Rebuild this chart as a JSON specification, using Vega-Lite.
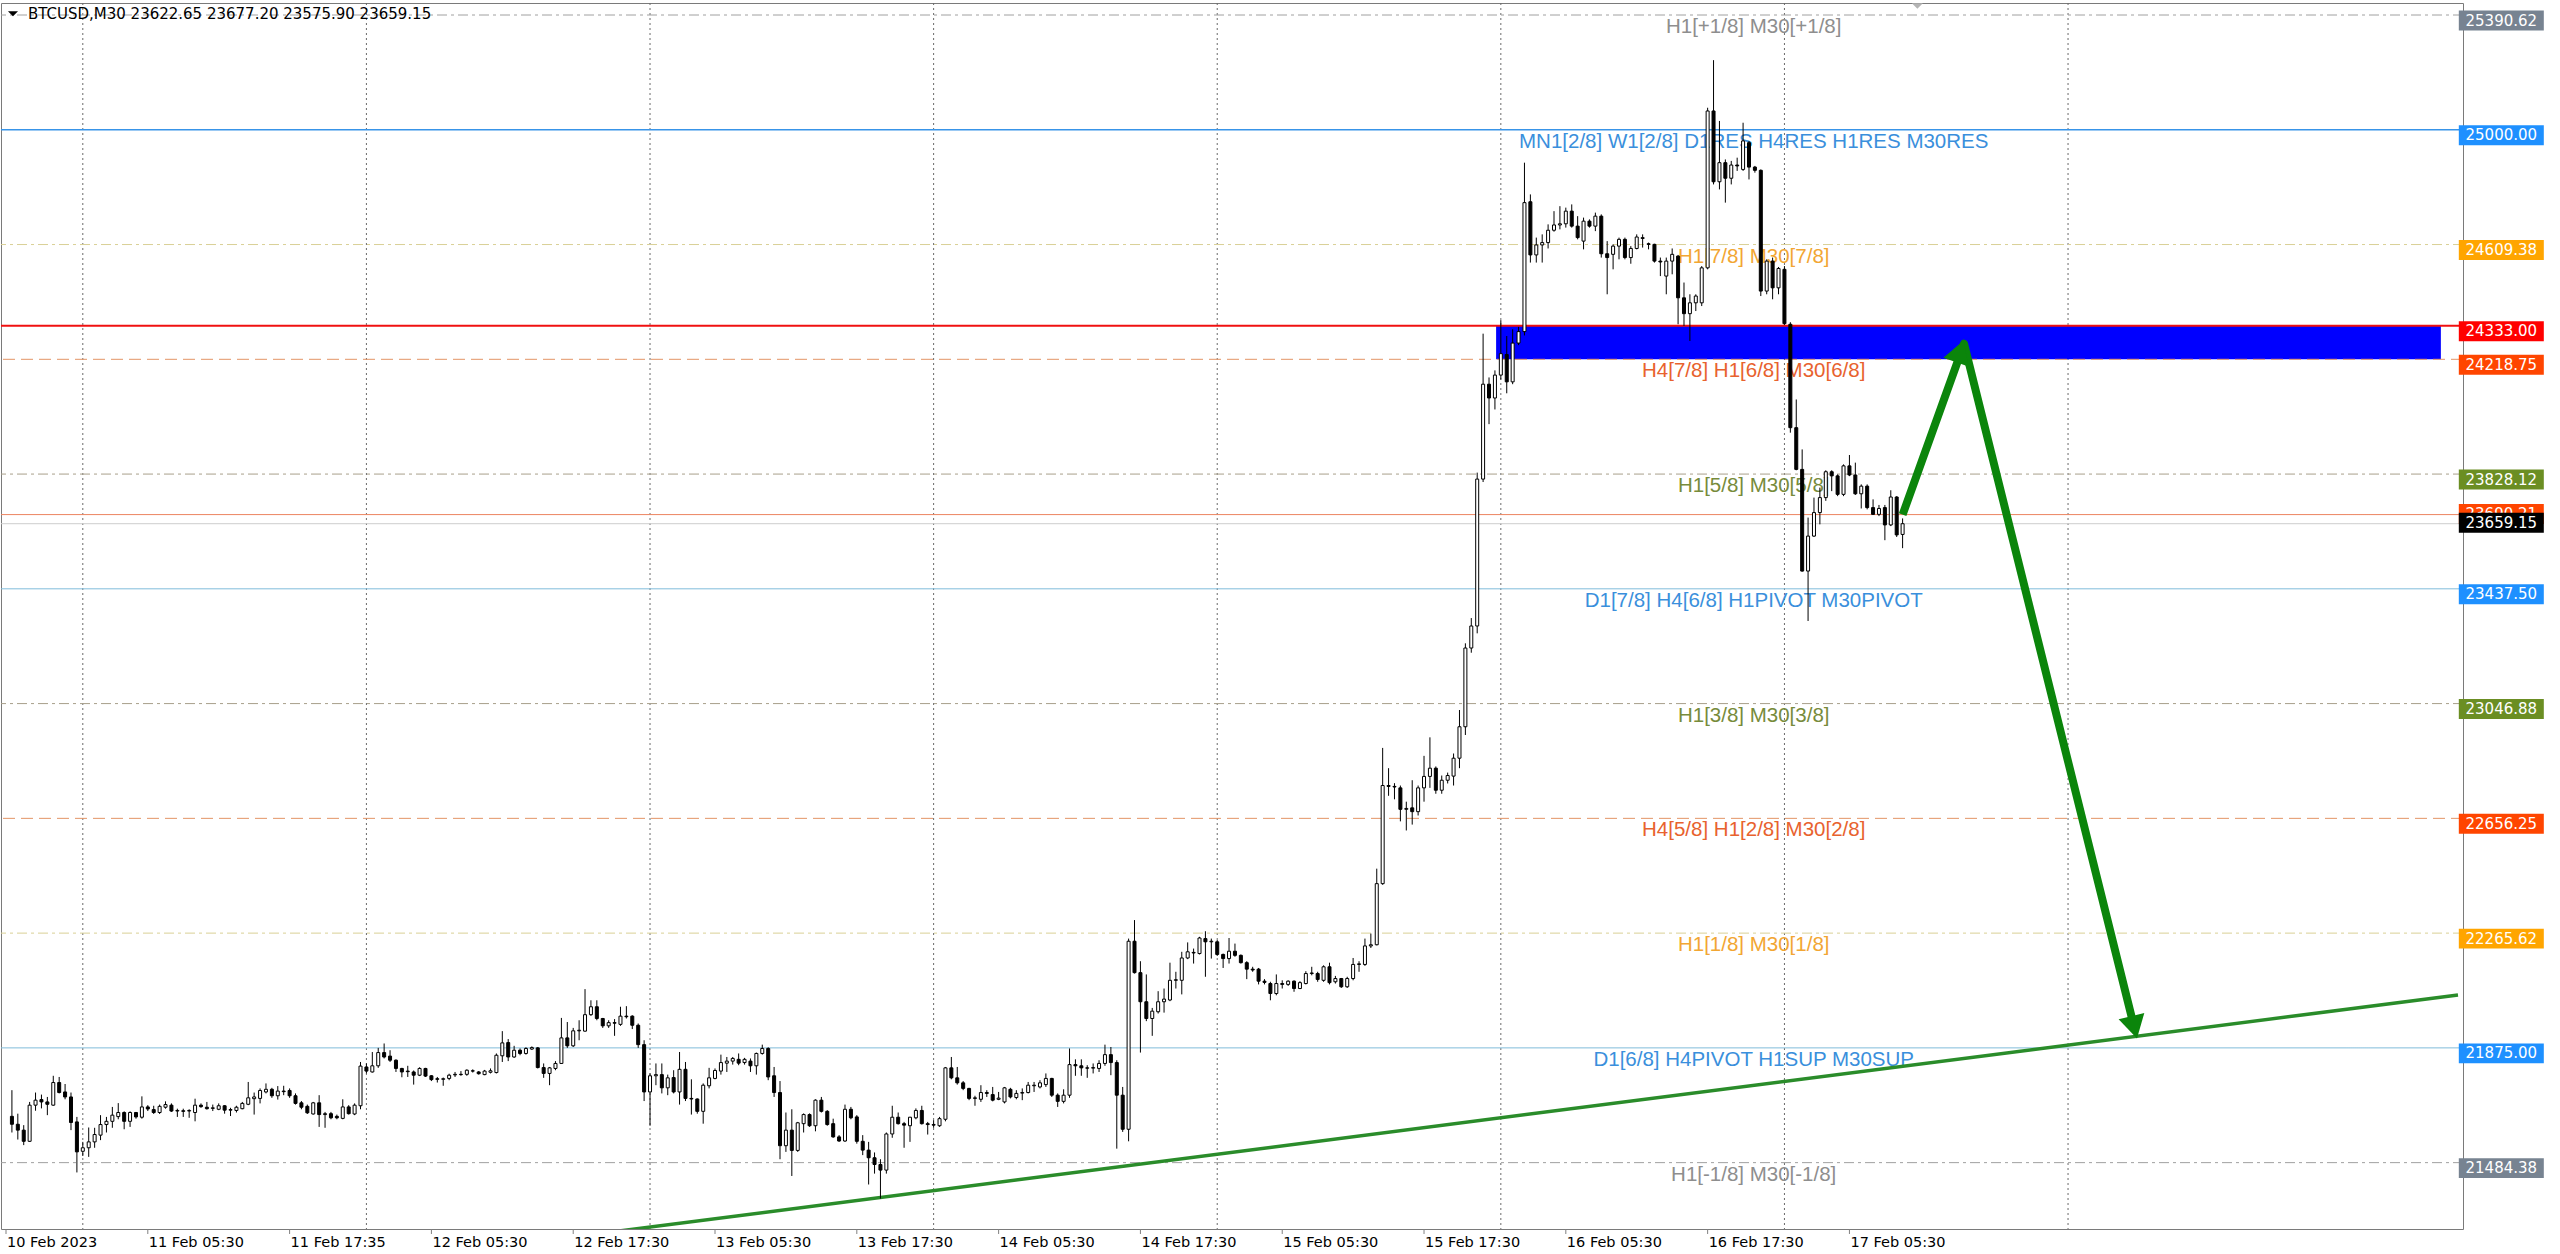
{
"$schema":"https://vega.github.io/schema/vega-lite/v6.json",
"width":2462,"height":1226,
"padding":{"left":0,"top":2,"right":0,"bottom":0},
"background":"white",
"config":{"font":"DejaVu Sans","view":{"stroke":"#7a7a7a","strokeWidth":1}},
"datasets":{
"grid":[{"i":13},{"i":61},{"i":109},{"i":157},{"i":205},{"i":253},{"i":301},{"i":349}],
"xt":[{"i":0,"t":"10 Feb 2023"},{"i":24,"t":"11 Feb 05:30"},{"i":48,"t":"11 Feb 17:35"},{"i":72,"t":"12 Feb 05:30"},{"i":96,"t":"12 Feb 17:30"},{"i":120,"t":"13 Feb 05:30"},{"i":144,"t":"13 Feb 17:30"},{"i":168,"t":"14 Feb 05:30"},{"i":192,"t":"14 Feb 17:30"},{"i":216,"t":"15 Feb 05:30"},{"i":240,"t":"15 Feb 17:30"},{"i":264,"t":"16 Feb 05:30"},{"i":288,"t":"16 Feb 17:30"},{"i":312,"t":"17 Feb 05:30"}],
"zone":[{"i1":252.2,"i2":412.1,"p1":24333,"p2":24218.75}],
"levels":[
{"p":25390.62,"g":"p18","t":"H1[+1/8] M30[+1/8]"},
{"p":25000,"g":"res","t":"MN1[2/8] W1[2/8] D1RES H4RES H1RES M30RES"},
{"p":24609.38,"g":"k","t":"H1[7/8] M30[7/8]"},
{"p":24333,"g":"red","t":""},
{"p":24218.75,"g":"o","t":"H4[7/8] H1[6/8] M30[6/8]"},
{"p":23828.12,"g":"ol","t":"H1[5/8] M30[5/8]"},
{"p":23690.21,"g":"hi","t":""},
{"p":23659.15,"g":"bid","t":""},
{"p":23437.5,"g":"piv","t":"D1[7/8] H4[6/8] H1PIVOT M30PIVOT"},
{"p":23046.88,"g":"ol","t":"H1[3/8] M30[3/8]"},
{"p":22656.25,"g":"o","t":"H4[5/8] H1[2/8] M30[2/8]"},
{"p":22265.62,"g":"k","t":"H1[1/8] M30[1/8]"},
{"p":21875,"g":"piv","t":"D1[6/8] H4PIVOT H1SUP M30SUP"},
{"p":21484.38,"g":"p18","t":"H1[-1/8] M30[-1/8]"}],
"trend":[{"i":100,"p":21242},{"i":415,"p":22055}],
"arrow":[{"i":321,"p":23690},{"i":331.4,"p":24272},{"i":360.04,"p":21958}],
"heads":[{"i":330.67,"p":24246,"d":"up"},{"i":360.2,"p":21945,"d":"down"}],
"title":[{"t":"BTCUSD,M30  23622.65 23677.20 23575.90 23659.15"}],
"candles":[
{"i":1,"o":21642,"h":21731,"l":21587,"c":21615},
{"i":2,"o":21615,"h":21651,"l":21563,"c":21595},
{"i":3,"o":21595,"h":21612,"l":21544,"c":21557},
{"i":4,"o":21557,"h":21691,"l":21555,"c":21680},
{"i":5,"o":21680,"h":21723,"l":21661,"c":21697},
{"i":6,"o":21699,"h":21716,"l":21669,"c":21691},
{"i":7,"o":21691,"h":21708,"l":21646,"c":21683},
{"i":8,"o":21680,"h":21780,"l":21678,"c":21757},
{"i":9,"o":21757,"h":21776,"l":21720,"c":21723},
{"i":10,"o":21725,"h":21752,"l":21700,"c":21708},
{"i":11,"o":21708,"h":21723,"l":21595,"c":21621},
{"i":12,"o":21623,"h":21640,"l":21451,"c":21521},
{"i":13,"o":21523,"h":21555,"l":21507,"c":21535},
{"i":14,"o":21535,"h":21604,"l":21504,"c":21555},
{"i":15,"o":21555,"h":21603,"l":21535,"c":21580},
{"i":16,"o":21578,"h":21646,"l":21561,"c":21614},
{"i":17,"o":21614,"h":21640,"l":21587,"c":21625},
{"i":18,"o":21625,"h":21674,"l":21603,"c":21646},
{"i":19,"o":21641,"h":21687,"l":21632,"c":21655},
{"i":20,"o":21655,"h":21659,"l":21598,"c":21625},
{"i":21,"o":21625,"h":21659,"l":21606,"c":21655},
{"i":22,"o":21655,"h":21657,"l":21634,"c":21640},
{"i":23,"o":21639,"h":21710,"l":21634,"c":21674},
{"i":24,"o":21674,"h":21680,"l":21660,"c":21667},
{"i":25,"o":21665,"h":21678,"l":21650,"c":21655},
{"i":26,"o":21655,"h":21682,"l":21650,"c":21676},
{"i":27,"o":21673,"h":21693,"l":21668,"c":21682},
{"i":28,"o":21680,"h":21686,"l":21657,"c":21660},
{"i":29,"o":21660,"h":21668,"l":21640,"c":21662},
{"i":30,"o":21661,"h":21668,"l":21640,"c":21659},
{"i":31,"o":21660,"h":21666,"l":21637,"c":21662},
{"i":32,"o":21655,"h":21702,"l":21625,"c":21680},
{"i":33,"o":21680,"h":21686,"l":21671,"c":21675},
{"i":34,"o":21673,"h":21691,"l":21665,"c":21668},
{"i":35,"o":21669,"h":21682,"l":21660,"c":21671},
{"i":36,"o":21666,"h":21686,"l":21663,"c":21678},
{"i":37,"o":21678,"h":21680,"l":21651,"c":21663},
{"i":38,"o":21663,"h":21671,"l":21643,"c":21665},
{"i":39,"o":21662,"h":21678,"l":21655,"c":21673},
{"i":40,"o":21668,"h":21691,"l":21666,"c":21686},
{"i":41,"o":21683,"h":21759,"l":21680,"c":21705},
{"i":42,"o":21702,"h":21723,"l":21648,"c":21708},
{"i":43,"o":21703,"h":21737,"l":21686,"c":21730},
{"i":44,"o":21725,"h":21754,"l":21720,"c":21734},
{"i":45,"o":21734,"h":21739,"l":21705,"c":21712},
{"i":46,"o":21712,"h":21745,"l":21699,"c":21728},
{"i":47,"o":21728,"h":21746,"l":21714,"c":21726},
{"i":48,"o":21730,"h":21737,"l":21705,"c":21712},
{"i":49,"o":21712,"h":21720,"l":21682,"c":21686},
{"i":50,"o":21688,"h":21694,"l":21666,"c":21673},
{"i":51,"o":21676,"h":21682,"l":21650,"c":21654},
{"i":52,"o":21650,"h":21691,"l":21648,"c":21688},
{"i":53,"o":21688,"h":21714,"l":21606,"c":21648},
{"i":54,"o":21648,"h":21657,"l":21603,"c":21651},
{"i":55,"o":21651,"h":21657,"l":21632,"c":21637},
{"i":56,"o":21642,"h":21648,"l":21632,"c":21637},
{"i":57,"o":21635,"h":21700,"l":21632,"c":21674},
{"i":58,"o":21674,"h":21680,"l":21648,"c":21651},
{"i":59,"o":21650,"h":21686,"l":21646,"c":21680},
{"i":60,"o":21678,"h":21827,"l":21666,"c":21813},
{"i":61,"o":21810,"h":21822,"l":21788,"c":21796},
{"i":62,"o":21793,"h":21861,"l":21791,"c":21814},
{"i":63,"o":21814,"h":21875,"l":21807,"c":21859},
{"i":64,"o":21859,"h":21890,"l":21839,"c":21844},
{"i":65,"o":21847,"h":21867,"l":21827,"c":21833},
{"i":66,"o":21833,"h":21836,"l":21793,"c":21805},
{"i":67,"o":21805,"h":21807,"l":21775,"c":21793},
{"i":68,"o":21796,"h":21814,"l":21776,"c":21794},
{"i":69,"o":21793,"h":21798,"l":21750,"c":21782},
{"i":70,"o":21782,"h":21809,"l":21779,"c":21805},
{"i":71,"o":21805,"h":21807,"l":21776,"c":21779},
{"i":72,"o":21780,"h":21782,"l":21762,"c":21767},
{"i":73,"o":21770,"h":21776,"l":21757,"c":21768},
{"i":74,"o":21768,"h":21774,"l":21746,"c":21770},
{"i":75,"o":21771,"h":21787,"l":21765,"c":21782},
{"i":76,"o":21783,"h":21793,"l":21776,"c":21785},
{"i":77,"o":21785,"h":21796,"l":21780,"c":21784},
{"i":78,"o":21785,"h":21802,"l":21780,"c":21799},
{"i":79,"o":21797,"h":21802,"l":21791,"c":21796},
{"i":80,"o":21793,"h":21796,"l":21784,"c":21787},
{"i":81,"o":21784,"h":21800,"l":21782,"c":21796},
{"i":82,"o":21792,"h":21805,"l":21788,"c":21797},
{"i":83,"o":21791,"h":21856,"l":21788,"c":21850},
{"i":84,"o":21848,"h":21932,"l":21827,"c":21892},
{"i":85,"o":21893,"h":21905,"l":21830,"c":21844},
{"i":86,"o":21844,"h":21882,"l":21841,"c":21867},
{"i":87,"o":21867,"h":21873,"l":21850,"c":21856},
{"i":88,"o":21856,"h":21877,"l":21852,"c":21873},
{"i":89,"o":21871,"h":21880,"l":21868,"c":21876},
{"i":90,"o":21875,"h":21878,"l":21805,"c":21808},
{"i":91,"o":21808,"h":21822,"l":21773,"c":21788},
{"i":92,"o":21788,"h":21810,"l":21748,"c":21807},
{"i":93,"o":21805,"h":21830,"l":21799,"c":21822},
{"i":94,"o":21822,"h":21977,"l":21821,"c":21909},
{"i":95,"o":21909,"h":21963,"l":21875,"c":21882},
{"i":96,"o":21882,"h":21943,"l":21878,"c":21933},
{"i":97,"o":21933,"h":21969,"l":21901,"c":21935},
{"i":98,"o":21932,"h":22075,"l":21930,"c":21988},
{"i":99,"o":21988,"h":22037,"l":21984,"c":22015},
{"i":100,"o":22015,"h":22037,"l":21969,"c":21975},
{"i":101,"o":21975,"h":21977,"l":21943,"c":21950},
{"i":102,"o":21950,"h":21969,"l":21943,"c":21961},
{"i":103,"o":21961,"h":21973,"l":21916,"c":21959},
{"i":104,"o":21955,"h":22015,"l":21950,"c":21983},
{"i":105,"o":21983,"h":22017,"l":21975,"c":21981},
{"i":106,"o":21983,"h":21986,"l":21939,"c":21952},
{"i":107,"o":21952,"h":21958,"l":21875,"c":21886},
{"i":108,"o":21886,"h":21901,"l":21694,"c":21725},
{"i":109,"o":21725,"h":21788,"l":21610,"c":21780},
{"i":110,"o":21780,"h":21822,"l":21748,"c":21784},
{"i":111,"o":21784,"h":21822,"l":21720,"c":21739},
{"i":112,"o":21739,"h":21784,"l":21714,"c":21773},
{"i":113,"o":21774,"h":21799,"l":21720,"c":21725},
{"i":114,"o":21725,"h":21861,"l":21682,"c":21802},
{"i":115,"o":21802,"h":21827,"l":21694,"c":21703},
{"i":116,"o":21703,"h":21768,"l":21648,"c":21701},
{"i":117,"o":21701,"h":21703,"l":21651,"c":21659},
{"i":118,"o":21659,"h":21754,"l":21617,"c":21748},
{"i":119,"o":21746,"h":21807,"l":21737,"c":21773},
{"i":120,"o":21771,"h":21805,"l":21768,"c":21798},
{"i":121,"o":21796,"h":21852,"l":21784,"c":21825},
{"i":122,"o":21823,"h":21844,"l":21793,"c":21830},
{"i":123,"o":21830,"h":21844,"l":21818,"c":21839},
{"i":124,"o":21836,"h":21856,"l":21816,"c":21823},
{"i":125,"o":21825,"h":21841,"l":21818,"c":21836},
{"i":126,"o":21830,"h":21839,"l":21793,"c":21814},
{"i":127,"o":21814,"h":21859,"l":21784,"c":21856},
{"i":128,"o":21856,"h":21886,"l":21852,"c":21873},
{"i":129,"o":21873,"h":21877,"l":21765,"c":21776},
{"i":130,"o":21780,"h":21810,"l":21708,"c":21723},
{"i":131,"o":21723,"h":21762,"l":21496,"c":21542},
{"i":132,"o":21542,"h":21655,"l":21521,"c":21595},
{"i":133,"o":21595,"h":21666,"l":21439,"c":21526},
{"i":134,"o":21526,"h":21623,"l":21521,"c":21620},
{"i":135,"o":21617,"h":21652,"l":21587,"c":21648},
{"i":136,"o":21648,"h":21652,"l":21606,"c":21610},
{"i":137,"o":21610,"h":21700,"l":21591,"c":21697},
{"i":138,"o":21697,"h":21708,"l":21655,"c":21659},
{"i":139,"o":21659,"h":21663,"l":21610,"c":21614},
{"i":140,"o":21617,"h":21634,"l":21569,"c":21572},
{"i":141,"o":21572,"h":21578,"l":21555,"c":21558},
{"i":142,"o":21558,"h":21682,"l":21555,"c":21666},
{"i":143,"o":21666,"h":21674,"l":21632,"c":21637},
{"i":144,"o":21640,"h":21646,"l":21549,"c":21557},
{"i":145,"o":21557,"h":21578,"l":21510,"c":21527},
{"i":146,"o":21527,"h":21555,"l":21410,"c":21501},
{"i":147,"o":21501,"h":21519,"l":21447,"c":21478},
{"i":148,"o":21478,"h":21496,"l":21362,"c":21459},
{"i":149,"o":21459,"h":21587,"l":21447,"c":21582},
{"i":150,"o":21582,"h":21678,"l":21569,"c":21639},
{"i":151,"o":21639,"h":21655,"l":21614,"c":21617},
{"i":152,"o":21617,"h":21623,"l":21535,"c":21612},
{"i":153,"o":21610,"h":21640,"l":21555,"c":21639},
{"i":154,"o":21637,"h":21669,"l":21632,"c":21662},
{"i":155,"o":21662,"h":21678,"l":21614,"c":21617},
{"i":156,"o":21617,"h":21623,"l":21580,"c":21614},
{"i":157,"o":21614,"h":21629,"l":21603,"c":21612},
{"i":158,"o":21610,"h":21640,"l":21606,"c":21634},
{"i":159,"o":21632,"h":21810,"l":21625,"c":21807},
{"i":160,"o":21807,"h":21844,"l":21768,"c":21773},
{"i":161,"o":21773,"h":21810,"l":21750,"c":21756},
{"i":162,"o":21756,"h":21762,"l":21731,"c":21737},
{"i":163,"o":21737,"h":21739,"l":21697,"c":21703},
{"i":164,"o":21703,"h":21712,"l":21678,"c":21705},
{"i":165,"o":21700,"h":21748,"l":21691,"c":21723},
{"i":166,"o":21723,"h":21731,"l":21708,"c":21720},
{"i":167,"o":21716,"h":21742,"l":21693,"c":21697},
{"i":168,"o":21700,"h":21725,"l":21697,"c":21704},
{"i":169,"o":21691,"h":21742,"l":21686,"c":21739},
{"i":170,"o":21734,"h":21739,"l":21703,"c":21708},
{"i":171,"o":21706,"h":21731,"l":21700,"c":21720},
{"i":172,"o":21721,"h":21737,"l":21697,"c":21723},
{"i":173,"o":21723,"h":21759,"l":21720,"c":21748},
{"i":174,"o":21746,"h":21759,"l":21725,"c":21748},
{"i":175,"o":21742,"h":21765,"l":21737,"c":21756},
{"i":176,"o":21750,"h":21788,"l":21742,"c":21771},
{"i":177,"o":21771,"h":21773,"l":21708,"c":21714},
{"i":178,"o":21714,"h":21720,"l":21674,"c":21693},
{"i":179,"o":21693,"h":21734,"l":21686,"c":21714},
{"i":180,"o":21714,"h":21873,"l":21705,"c":21818},
{"i":181,"o":21818,"h":21836,"l":21780,"c":21814},
{"i":182,"o":21814,"h":21836,"l":21780,"c":21807},
{"i":183,"o":21807,"h":21816,"l":21773,"c":21806},
{"i":184,"o":21806,"h":21822,"l":21788,"c":21808},
{"i":185,"o":21805,"h":21833,"l":21793,"c":21822},
{"i":186,"o":21822,"h":21886,"l":21814,"c":21852},
{"i":187,"o":21852,"h":21878,"l":21782,"c":21825},
{"i":188,"o":21825,"h":21833,"l":21532,"c":21714},
{"i":189,"o":21714,"h":21742,"l":21589,"c":21598},
{"i":190,"o":21598,"h":22247,"l":21557,"c":22238},
{"i":191,"o":22238,"h":22310,"l":22128,"c":22131},
{"i":192,"o":22131,"h":22170,"l":21859,"c":22032},
{"i":193,"o":22032,"h":22125,"l":21966,"c":21975},
{"i":194,"o":21975,"h":22011,"l":21916,"c":22000},
{"i":195,"o":21998,"h":22068,"l":21992,"c":22032},
{"i":196,"o":22032,"h":22077,"l":21995,"c":22041},
{"i":197,"o":22038,"h":22165,"l":22034,"c":22105},
{"i":198,"o":22105,"h":22134,"l":22077,"c":22107},
{"i":199,"o":22105,"h":22202,"l":22057,"c":22181},
{"i":200,"o":22181,"h":22234,"l":22177,"c":22202},
{"i":201,"o":22200,"h":22213,"l":22162,"c":22198},
{"i":202,"o":22196,"h":22253,"l":22193,"c":22249},
{"i":203,"o":22247,"h":22272,"l":22117,"c":22236},
{"i":204,"o":22236,"h":22247,"l":22179,"c":22238},
{"i":205,"o":22236,"h":22242,"l":22188,"c":22193},
{"i":206,"o":22193,"h":22196,"l":22147,"c":22179},
{"i":207,"o":22179,"h":22249,"l":22162,"c":22204},
{"i":208,"o":22204,"h":22230,"l":22185,"c":22190},
{"i":209,"o":22190,"h":22193,"l":22162,"c":22165},
{"i":210,"o":22165,"h":22170,"l":22109,"c":22143},
{"i":211,"o":22143,"h":22151,"l":22134,"c":22140},
{"i":212,"o":22143,"h":22147,"l":22091,"c":22102},
{"i":213,"o":22102,"h":22109,"l":22091,"c":22098},
{"i":214,"o":22094,"h":22100,"l":22037,"c":22060},
{"i":215,"o":22060,"h":22125,"l":22054,"c":22094},
{"i":216,"o":22094,"h":22105,"l":22077,"c":22091},
{"i":217,"o":22091,"h":22105,"l":22086,"c":22102},
{"i":218,"o":22102,"h":22105,"l":22066,"c":22077},
{"i":219,"o":22077,"h":22102,"l":22075,"c":22097},
{"i":220,"o":22094,"h":22136,"l":22091,"c":22128},
{"i":221,"o":22128,"h":22151,"l":22122,"c":22130},
{"i":222,"o":22128,"h":22134,"l":22100,"c":22108},
{"i":223,"o":22105,"h":22156,"l":22100,"c":22151},
{"i":224,"o":22151,"h":22165,"l":22091,"c":22097},
{"i":225,"o":22100,"h":22120,"l":22094,"c":22111},
{"i":226,"o":22111,"h":22113,"l":22079,"c":22083},
{"i":227,"o":22083,"h":22117,"l":22079,"c":22111},
{"i":228,"o":22111,"h":22181,"l":22105,"c":22159},
{"i":229,"o":22159,"h":22170,"l":22134,"c":22161},
{"i":230,"o":22159,"h":22247,"l":22154,"c":22222},
{"i":231,"o":22222,"h":22264,"l":22215,"c":22226},
{"i":232,"o":22226,"h":22485,"l":22224,"c":22434},
{"i":233,"o":22434,"h":22896,"l":22430,"c":22768},
{"i":234,"o":22768,"h":22827,"l":22733,"c":22765},
{"i":235,"o":22765,"h":22776,"l":22721,"c":22763},
{"i":236,"o":22760,"h":22768,"l":22646,"c":22687},
{"i":237,"o":22687,"h":22713,"l":22615,"c":22690},
{"i":238,"o":22692,"h":22786,"l":22635,"c":22679},
{"i":239,"o":22679,"h":22768,"l":22666,"c":22760},
{"i":240,"o":22760,"h":22869,"l":22713,"c":22799},
{"i":241,"o":22799,"h":22932,"l":22760,"c":22827},
{"i":242,"o":22827,"h":22833,"l":22740,"c":22752},
{"i":243,"o":22752,"h":22802,"l":22740,"c":22786},
{"i":244,"o":22786,"h":22812,"l":22775,"c":22802},
{"i":245,"o":22800,"h":22877,"l":22768,"c":22861},
{"i":246,"o":22861,"h":23025,"l":22827,"c":22968},
{"i":247,"o":22968,"h":23252,"l":22940,"c":23236},
{"i":248,"o":23236,"h":23338,"l":23220,"c":23311},
{"i":249,"o":23311,"h":23833,"l":23286,"c":23811},
{"i":250,"o":23811,"h":24306,"l":23801,"c":24134},
{"i":251,"o":24134,"h":24157,"l":23998,"c":24087},
{"i":252,"o":24087,"h":24181,"l":24048,"c":24165},
{"i":253,"o":24165,"h":24352,"l":24150,"c":24238},
{"i":254,"o":24235,"h":24298,"l":24103,"c":24142},
{"i":255,"o":24142,"h":24321,"l":24134,"c":24274},
{"i":256,"o":24274,"h":24329,"l":24267,"c":24313},
{"i":257,"o":24313,"h":24888,"l":24300,"c":24752},
{"i":258,"o":24755,"h":24780,"l":24548,"c":24574},
{"i":259,"o":24574,"h":24633,"l":24548,"c":24608},
{"i":260,"o":24608,"h":24644,"l":24548,"c":24616},
{"i":261,"o":24616,"h":24678,"l":24596,"c":24658},
{"i":262,"o":24658,"h":24723,"l":24653,"c":24676},
{"i":263,"o":24676,"h":24740,"l":24661,"c":24680},
{"i":264,"o":24680,"h":24735,"l":24667,"c":24723},
{"i":265,"o":24723,"h":24746,"l":24667,"c":24672},
{"i":266,"o":24672,"h":24706,"l":24627,"c":24633},
{"i":267,"o":24621,"h":24701,"l":24593,"c":24689},
{"i":268,"o":24689,"h":24695,"l":24667,"c":24672},
{"i":269,"o":24672,"h":24718,"l":24655,"c":24706},
{"i":270,"o":24706,"h":24712,"l":24565,"c":24578},
{"i":271,"o":24578,"h":24621,"l":24440,"c":24565},
{"i":272,"o":24576,"h":24610,"l":24525,"c":24604},
{"i":273,"o":24604,"h":24633,"l":24559,"c":24627},
{"i":274,"o":24627,"h":24633,"l":24559,"c":24565},
{"i":275,"o":24565,"h":24604,"l":24544,"c":24596},
{"i":276,"o":24596,"h":24644,"l":24593,"c":24635},
{"i":277,"o":24630,"h":24644,"l":24599,"c":24633},
{"i":278,"o":24612,"h":24616,"l":24593,"c":24610},
{"i":279,"o":24610,"h":24612,"l":24548,"c":24553},
{"i":280,"o":24553,"h":24565,"l":24502,"c":24550},
{"i":281,"o":24502,"h":24565,"l":24440,"c":24553},
{"i":282,"o":24553,"h":24596,"l":24508,"c":24576},
{"i":283,"o":24570,"h":24574,"l":24338,"c":24428},
{"i":284,"o":24428,"h":24480,"l":24332,"c":24374},
{"i":285,"o":24374,"h":24440,"l":24281,"c":24411},
{"i":286,"o":24411,"h":24440,"l":24383,"c":24434},
{"i":287,"o":24411,"h":24536,"l":24400,"c":24530},
{"i":288,"o":24530,"h":25075,"l":24525,"c":25064},
{"i":289,"o":25064,"h":25237,"l":24814,"c":24823},
{"i":290,"o":24823,"h":25030,"l":24797,"c":24888},
{"i":291,"o":24888,"h":24899,"l":24752,"c":24835},
{"i":292,"o":24835,"h":24894,"l":24814,"c":24880},
{"i":293,"o":24880,"h":24905,"l":24860,"c":24877},
{"i":294,"o":24865,"h":25024,"l":24860,"c":24962},
{"i":295,"o":24956,"h":24962,"l":24831,"c":24873},
{"i":296,"o":24873,"h":24877,"l":24854,"c":24862},
{"i":297,"o":24862,"h":24865,"l":24434,"c":24451},
{"i":298,"o":24451,"h":24559,"l":24440,"c":24553},
{"i":299,"o":24553,"h":24565,"l":24423,"c":24462},
{"i":300,"o":24462,"h":24533,"l":24440,"c":24528},
{"i":301,"o":24525,"h":24536,"l":24336,"c":24340},
{"i":302,"o":24338,"h":24345,"l":23969,"c":23986},
{"i":303,"o":23986,"h":24082,"l":23841,"c":23844},
{"i":304,"o":23844,"h":23912,"l":23496,"c":23498},
{"i":305,"o":23498,"h":23680,"l":23328,"c":23617},
{"i":306,"o":23617,"h":23748,"l":23614,"c":23697},
{"i":307,"o":23697,"h":23782,"l":23657,"c":23748},
{"i":308,"o":23748,"h":23841,"l":23737,"c":23836},
{"i":309,"o":23836,"h":23841,"l":23770,"c":23822},
{"i":310,"o":23822,"h":23827,"l":23753,"c":23759},
{"i":311,"o":23759,"h":23861,"l":23753,"c":23856},
{"i":312,"o":23856,"h":23893,"l":23821,"c":23825},
{"i":313,"o":23825,"h":23867,"l":23757,"c":23761},
{"i":314,"o":23761,"h":23793,"l":23711,"c":23787},
{"i":315,"o":23787,"h":23793,"l":23708,"c":23714},
{"i":316,"o":23714,"h":23742,"l":23689,"c":23691},
{"i":317,"o":23691,"h":23723,"l":23685,"c":23711},
{"i":318,"o":23714,"h":23723,"l":23603,"c":23655},
{"i":319,"o":23655,"h":23773,"l":23651,"c":23750},
{"i":320,"o":23750,"h":23753,"l":23614,"c":23621},
{"i":321,"o":23622.65,"h":23677.2,"l":23575.9,"c":23659.15}
]},
"layer":[
{"data":{"name":"grid"},"mark":{"type":"rule","color":"#6a6a6a","strokeDash":[2,3],"strokeWidth":1},
 "encoding":{"x":{"field":"i","type":"quantitative","scale":{"domain":[0,415],"nice":false,"zero":false},"axis":null}}},
{"data":{"name":"zone"},"mark":{"type":"rect","color":"#0000ff"},
 "encoding":{"x":{"field":"i1","type":"quantitative","scale":{"domain":[0,415],"nice":false,"zero":false},"axis":null},"x2":{"field":"i2"},
  "y":{"field":"p1","type":"quantitative","scale":{"domain":[21258.5,25431.5],"nice":false,"zero":false},"axis":null},"y2":{"field":"p2"}}},
{"data":{"name":"levels"},"transform":[{"filter":"datum.g != 'red' && datum.g != 'res'"}],"mark":{"type":"rule","strokeWidth":1},
 "encoding":{"y":{"field":"p","type":"quantitative","scale":{"domain":[21258.5,25431.5],"nice":false,"zero":false},"axis":null},
  "stroke":{"field":"g","type":"nominal","legend":null,"scale":{"domain":["p18","k","o","ol","hi","bid","piv"],"range":["#a0a0a0","#d9d096","#e39466","#a89f8a","#ec8561","#cdcdcd","#80bcdb"]}},
  "strokeDash":{"field":"g","type":"nominal","legend":null,"scale":{"domain":["p18","k","o","ol","hi","bid","piv"],"range":[[10,4,3,4],[10,4,3,4],[12,6],[10,4,3,4],[1,0],[1,0],[1,0]]}}}},
{"data":{"name":"levels"},"transform":[{"filter":"datum.g == 'res'"}],"mark":{"type":"rule","strokeWidth":1.6,"color":"#3894e8"},
 "encoding":{"y":{"field":"p","type":"quantitative","scale":{"domain":[21258.5,25431.5],"nice":false,"zero":false},"axis":null}}},
{"data":{"name":"levels"},"transform":[{"filter":"datum.g == 'red'"}],"mark":{"type":"rule","strokeWidth":2,"color":"#f01010"},
 "encoding":{"y":{"field":"p","type":"quantitative","scale":{"domain":[21258.5,25431.5],"nice":false,"zero":false},"axis":null}}},
{"data":{"name":"levels"},"transform":[{"filter":"datum.t != ''"}],"mark":{"type":"text","font":"Liberation Sans","fontSize":20.5,"align":"center","baseline":"middle","dy":12},
 "encoding":{"x":{"datum":295.8,"type":"quantitative","scale":{"domain":[0,415],"nice":false,"zero":false},"axis":null},
  "y":{"field":"p","type":"quantitative","scale":{"domain":[21258.5,25431.5],"nice":false,"zero":false},"axis":null},
  "text":{"field":"t"},
  "color":{"field":"g","type":"nominal","legend":null,"scale":{"domain":["p18","res","k","o","ol","piv"],"range":["#8e8e8e","#3a8fdc","#f2a633","#e8622e","#778b3b","#3a8fdc"]}}}},
{"data":{"name":"trend"},"mark":{"type":"line","color":"#2a8c2a","strokeWidth":3.5,"clip":true},
 "encoding":{"x":{"field":"i","type":"quantitative","scale":{"domain":[0,415],"nice":false,"zero":false},"axis":null},
  "y":{"field":"p","type":"quantitative","scale":{"domain":[21258.5,25431.5],"nice":false,"zero":false},"axis":null}}},
{"data":{"name":"candles"},"mark":{"type":"rule","color":"#000000","strokeWidth":1},
 "encoding":{"x":{"field":"i","type":"quantitative","scale":{"domain":[0,415],"nice":false,"zero":false},"axis":null},
  "y":{"field":"l","type":"quantitative","scale":{"domain":[21258.5,25431.5],"nice":false,"zero":false},
   "axis":{"title":null,"orient":"right","values":[21422.2,21669.7,21914.7,22159.7,22404.7,22649.7,22894.7,23142.2,23387.2,23632.2,23877.2,24122.2,24369.7,24614.7,24859.7,25104.7,25349.7],
    "format":".2f","labelFont":"DejaVu Sans","labelFontSize":15,"labelColor":"#000000","labelPadding":4,"labelFlush":false,"labelOverlap":false,
    "tickColor":"#808080","tickSize":4,"domainColor":"#7a7a7a","grid":false,"zindex":0}},
  "y2":{"field":"h"}}},
{"data":{"name":"candles"},"mark":{"type":"bar","width":3,"stroke":"#000000","strokeWidth":1},
 "encoding":{"x":{"field":"i","type":"quantitative","scale":{"domain":[0,415],"nice":false,"zero":false},"axis":null},
  "y":{"field":"o","type":"quantitative","scale":{"domain":[21258.5,25431.5],"nice":false,"zero":false},"axis":null},
  "y2":{"field":"c"},
  "fill":{"condition":{"test":"datum.c >= datum.o","value":"#ffffff"},"value":"#000000"}}},
{"data":{"name":"xt"},"mark":{"type":"rule","color":"#808080","strokeWidth":1},
 "encoding":{"x":{"field":"i","type":"quantitative","scale":{"domain":[0,415],"nice":false,"zero":false},"axis":null},
  "y":{"datum":21258.5,"type":"quantitative","scale":{"domain":[21258.5,25431.5],"nice":false,"zero":false},"axis":null},
  "y2":{"datum":21241.5}}},
{"data":{"name":"xt"},"mark":{"type":"text","font":"DejaVu Sans","fontSize":14.5,"align":"left","baseline":"middle","color":"#000000","dx":1},
 "encoding":{"x":{"field":"i","type":"quantitative","scale":{"domain":[0,415],"nice":false,"zero":false},"axis":null},
  "y":{"datum":21212,"type":"quantitative","scale":{"domain":[21258.5,25431.5],"nice":false,"zero":false},"axis":null},
  "text":{"field":"t"}}},
{"data":{"name":"arrow"},"mark":{"type":"line","color":"#0b850b","strokeWidth":8,"strokeJoin":"round"},
 "encoding":{"x":{"field":"i","type":"quantitative","scale":{"domain":[0,415],"nice":false,"zero":false},"axis":null},
  "y":{"field":"p","type":"quantitative","scale":{"domain":[21258.5,25431.5],"nice":false,"zero":false},"axis":null}}},
{"data":{"name":"heads"},"transform":[{"filter":"datum.d == 'up'"}],"mark":{"type":"point","shape":"triangle-up","filled":true,"size":700,"color":"#0b850b","opacity":1,"angle":19.4},
 "encoding":{"x":{"field":"i","type":"quantitative","scale":{"domain":[0,415],"nice":false,"zero":false},"axis":null},
  "y":{"field":"p","type":"quantitative","scale":{"domain":[21258.5,25431.5],"nice":false,"zero":false},"axis":null}}},
{"data":{"name":"heads"},"transform":[{"filter":"datum.d == 'down'"}],"mark":{"type":"point","shape":"triangle-up","filled":true,"size":700,"color":"#0b850b","opacity":1,"angle":166.1},
 "encoding":{"x":{"field":"i","type":"quantitative","scale":{"domain":[0,415],"nice":false,"zero":false},"axis":null},
  "y":{"field":"p","type":"quantitative","scale":{"domain":[21258.5,25431.5],"nice":false,"zero":false},"axis":null}}},
{"data":{"name":"levels"},"transform":[{"filter":"datum.g != 'hi' && datum.g != 'bid'"}],"mark":{"type":"point","shape":"M-1,-0.235L1,-0.235L1,0.235L-1,0.235Z","filled":true,"size":7225,"opacity":1,"strokeWidth":0,"yOffset":5.5},
 "encoding":{"x":{"datum":422.33,"type":"quantitative","scale":{"domain":[0,415],"nice":false,"zero":false},"axis":null},
  "y":{"field":"p","type":"quantitative","scale":{"domain":[21258.5,25431.5],"nice":false,"zero":false},"axis":null},
  "fill":{"field":"g","type":"nominal","legend":null,"scale":{"domain":["p18","res","k","red","o","ol","hi","bid","piv"],"range":["#778391","#1e90ff","#ffa500","#ff0000","#ff4500","#6b8e23","#ff4500","#000000","#1e90ff"]}}}},
{"data":{"name":"levels"},"transform":[{"filter":"datum.g != 'hi' && datum.g != 'bid'"}],"mark":{"type":"text","font":"DejaVu Sans","fontSize":15,"align":"center","baseline":"middle","color":"#ffffff","yOffset":5.5},
 "encoding":{"x":{"datum":422.33,"type":"quantitative","scale":{"domain":[0,415],"nice":false,"zero":false},"axis":null},
  "y":{"field":"p","type":"quantitative","scale":{"domain":[21258.5,25431.5],"nice":false,"zero":false},"axis":null},
  "text":{"field":"p","type":"quantitative","format":".2f"}}},
{"data":{"name":"levels"},"transform":[{"filter":"datum.g == 'hi'"}],"mark":{"type":"point","shape":"M-1,-0.235L1,-0.235L1,0.235L-1,0.235Z","filled":true,"size":7225,"opacity":1,"strokeWidth":0,"color":"#ff4500","yOffset":-0.5},
 "encoding":{"x":{"datum":422.33,"type":"quantitative","scale":{"domain":[0,415],"nice":false,"zero":false},"axis":null},
  "y":{"field":"p","type":"quantitative","scale":{"domain":[21258.5,25431.5],"nice":false,"zero":false},"axis":null}}},
{"data":{"name":"levels"},"transform":[{"filter":"datum.g == 'hi'"}],"mark":{"type":"text","font":"DejaVu Sans","fontSize":15,"align":"center","baseline":"middle","color":"#ffffff","yOffset":-0.5},
 "encoding":{"x":{"datum":422.33,"type":"quantitative","scale":{"domain":[0,415],"nice":false,"zero":false},"axis":null},
  "y":{"field":"p","type":"quantitative","scale":{"domain":[21258.5,25431.5],"nice":false,"zero":false},"axis":null},
  "text":{"field":"p","type":"quantitative","format":".2f"}}},
{"data":{"name":"levels"},"transform":[{"filter":"datum.g == 'bid'"}],"mark":{"type":"point","shape":"M-1,-0.235L1,-0.235L1,0.235L-1,0.235Z","filled":true,"size":7225,"opacity":1,"strokeWidth":0,"color":"#000000","yOffset":-1},
 "encoding":{"x":{"datum":422.33,"type":"quantitative","scale":{"domain":[0,415],"nice":false,"zero":false},"axis":null},
  "y":{"field":"p","type":"quantitative","scale":{"domain":[21258.5,25431.5],"nice":false,"zero":false},"axis":null}}},
{"data":{"name":"levels"},"transform":[{"filter":"datum.g == 'bid'"}],"mark":{"type":"text","font":"DejaVu Sans","fontSize":15,"align":"center","baseline":"middle","color":"#ffffff","yOffset":-1},
 "encoding":{"x":{"datum":422.33,"type":"quantitative","scale":{"domain":[0,415],"nice":false,"zero":false},"axis":null},
  "y":{"field":"p","type":"quantitative","scale":{"domain":[21258.5,25431.5],"nice":false,"zero":false},"axis":null},
  "text":{"field":"p","type":"quantitative","format":".2f"}}},
{"data":{"name":"title"},"mark":{"type":"text","font":"DejaVu Sans","fontSize":15,"align":"left","baseline":"middle","color":"#000000"},
 "encoding":{"x":{"datum":3.71,"type":"quantitative","scale":{"domain":[0,415],"nice":false,"zero":false},"axis":null},
  "y":{"datum":25395,"type":"quantitative","scale":{"domain":[21258.5,25431.5],"nice":false,"zero":false},"axis":null},
  "text":{"field":"t"}}},
{"data":{"name":"title"},"mark":{"type":"point","shape":"M-1,-0.5L1,-0.5L0,0.5Z","filled":true,"size":100,"color":"#000000","opacity":1},
 "encoding":{"x":{"datum":1.18,"type":"quantitative","scale":{"domain":[0,415],"nice":false,"zero":false},"axis":null},
  "y":{"datum":25395,"type":"quantitative","scale":{"domain":[21258.5,25431.5],"nice":false,"zero":false},"axis":null}}},
{"data":{"name":"title"},"mark":{"type":"point","shape":"M-1,-0.5L1,-0.5L0,0.5Z","filled":true,"size":120,"color":"#b4b4b4","opacity":1},
 "encoding":{"x":{"datum":323.5,"type":"quantitative","scale":{"domain":[0,415],"nice":false,"zero":false},"axis":null},
  "y":{"datum":25421,"type":"quantitative","scale":{"domain":[21258.5,25431.5],"nice":false,"zero":false},"axis":null}}}
]
}
